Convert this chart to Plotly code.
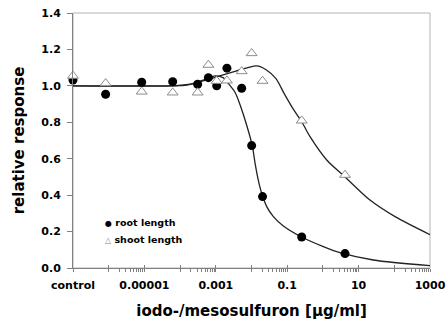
import plotly.graph_objects as go

# --- data ---
conc = [1e-7, 8.2e-7, 8.4e-6, 6.2e-5, 3.1e-4, 6.2e-4, 1.06e-3, 2.05e-3, 5.3e-3, 1.01e-2, 2.04e-2, 0.255, 4.16]
root_length = [1.032, 0.954, 1.02, 1.023, 1.009, 1.045, 1.0, 1.097, 0.987, 0.672, 0.392, 0.170, 0.079]
shoot_length = [1.055, 1.014, 0.968, 0.963, 0.963, 1.115, 1.027, 1.029, 1.08, 1.179, 1.027, 0.809, 0.511]

# fitted curves
root_fit_x = [1e-7, 2.75e-5, 1.38e-4, 2.6e-4, 5.0e-4, 9.5e-4, 1.6e-3, 2.0e-3, 3.45e-3, 4.8e-3, 7.3e-3,
              1.05e-2, 1.26e-2, 1.55e-2, 1.93e-2, 2.67e-2, 4.1e-2, 7.8e-2, 0.255, 1.03, 3.0, 25.8, 1000]
root_fit_y = [1.0, 1.0, 1.003, 1.015, 1.035, 1.055, 1.045, 1.025, 0.965, 0.895, 0.785,
              0.672, 0.575, 0.483, 0.41, 0.337, 0.282, 0.231, 0.170, 0.117, 0.084, 0.044, 0.013]
shoot_fit_x = [1e-7, 5.2e-5, 1.9e-4, 5.0e-4, 1.3e-3, 3.45e-3, 7.9e-3, 1.4e-2, 2.5e-2, 4.85e-2,
               8.1e-2, 0.145, 0.255, 0.436, 1.28, 4.16, 20.8, 105, 1000]
shoot_fit_y = [1.0, 1.0, 1.01, 1.03, 1.055, 1.08, 1.10, 1.11, 1.09, 1.04,
               0.96, 0.875, 0.803, 0.721, 0.593, 0.50, 0.373, 0.282, 0.183]

tick_vals = [1e-7, 1e-6, 1e-5, 1e-4, 1e-3, 1e-2, 1e-1, 1, 10, 100, 1000]
tick_text = ["control", "", "0.00001", "", "0.001", "", "0.1", "", "10", "", "1000"]
minor_vals = [m * d for d in [1e-6, 1e-4, 1e-2, 1, 100] for m in range(2, 10)]

FONT = "DejaVu Sans"
AXC = "#808080"

fig = go.Figure()
fig.add_trace(go.Scatter(x=root_fit_x, y=root_fit_y, mode="lines", line=dict(color="#222222", width=1.3, shape="spline", smoothing=0.8),
                         showlegend=False, hoverinfo="skip"))
fig.add_trace(go.Scatter(x=shoot_fit_x, y=shoot_fit_y, mode="lines", line=dict(color="#222222", width=1.3, shape="spline", smoothing=0.8),
                         showlegend=False, hoverinfo="skip"))
fig.add_trace(go.Scatter(x=conc, y=root_length, mode="markers", name="root length", xaxis="x2",
                         marker=dict(symbol="circle", size=9, color="black"), cliponaxis=False))
fig.add_trace(go.Scatter(x=conc, y=shoot_length, mode="markers", name="shoot length", xaxis="x2",
                         marker=dict(symbol="triangle-up", size=9.5, color="white", line=dict(color="#8c8c8c", width=1)),
                         cliponaxis=False))

axis_common = dict(type="log", range=[-7, 3], showgrid=False, zeroline=False, automargin=False,
                   tickmode="array", tickvals=tick_vals, ticklen=3, tickcolor=AXC, tickwidth=1,
                   minor=dict(tickmode="array", tickvals=minor_vals, ticklen=3, tickcolor=AXC, tickwidth=1))

fig.update_layout(
    width=446, height=322,
    margin=dict(l=73, r=16, t=13, b=54),
    paper_bgcolor="white", plot_bgcolor="white",
    showlegend=False,
    font=dict(family=FONT, color="black"),
    xaxis=dict(**axis_common, ticks="outside", ticktext=tick_text, showline=True, linecolor=AXC, linewidth=1,
               ticklabelstandoff=4,
               tickfont=dict(family=FONT, size=11, weight="bold", color="black"),
               title=dict(text="iodo-/mesosulfuron [µg/ml]", font=dict(family=FONT, size=15, weight="bold"), standoff=14)),
    xaxis2=dict(**axis_common, ticks="inside", overlaying="x", matches="x", anchor="y", side="bottom",
                showticklabels=False, showline=False),
    yaxis=dict(range=[0, 1.4], dtick=0.2, tick0=0, tickformat=".1f", showgrid=False, zeroline=False,
               ticks="outside", ticklen=5, tickcolor=AXC, showline=True, linecolor=AXC, linewidth=1,
               ticklabelstandoff=4, automargin=False,
               tickfont=dict(family=FONT, size=11, weight="bold", color="black"),
               title=dict(text="relative response", font=dict(family=FONT, size=15, weight="bold"), standoff=13)),
    shapes=[dict(type="rect", xref="x domain", yref="y domain", x0=0, x1=1, y0=0, y1=1,
                 line=dict(color="#b4b4b4", width=1), layer="below")],
    annotations=[
        dict(text="<span style='font-size:8px'>●</span> root length", xref="paper", yref="paper",
             x=(103 - 73) / 357, y=(268 - 222) / 255,
             xanchor="left", yanchor="middle", showarrow=False,
             font=dict(family=FONT, size=9.5, weight="bold", color="black")),
        dict(text="<span style='color:#8c8c8c;font-size:8px'>△</span> shoot length", xref="paper", yref="paper",
             x=(103 - 73) / 357, y=(268 - 239) / 255,
             xanchor="left", yanchor="middle", showarrow=False,
             font=dict(family=FONT, size=9.5, weight="bold", color="black")),
    ],
)

fig.write_html("out.html", config={"displayModeBar": False},
               post_script="document.body.style.margin='0';")
